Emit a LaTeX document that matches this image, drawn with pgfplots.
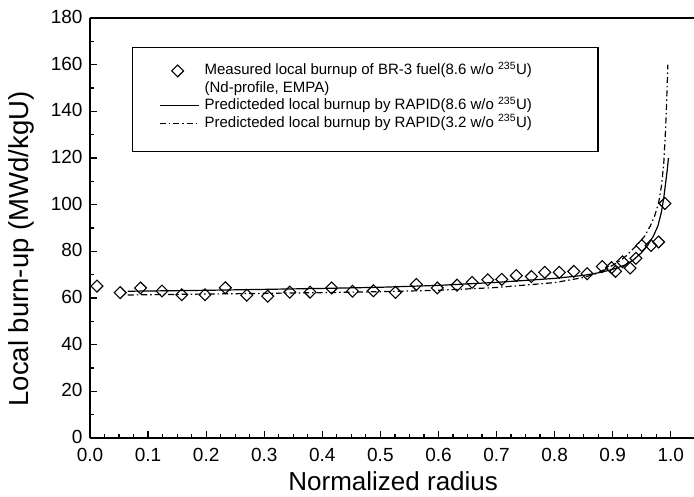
\documentclass[border=0pt]{standalone}
\usepackage{fontspec}
\setmainfont{Liberation Sans}
\usepackage{pgfplots}
\pgfplotsset{compat=1.18}
\pgfplotsset{
  lineleg/.style={legend image code/.code={\path[draw=none,fill=none] (0pt,-3pt) rectangle (43pt,3pt); \draw[##1] (0pt,0pt) -- (39pt,0pt);}},
  markleg/.style={legend image code/.code={\path[draw=none,fill=none] (0pt,-3pt) rectangle (43pt,3pt); \draw[##1] plot[only marks] coordinates {(18pt,0pt)};}},
}

\begin{document}
\begin{tikzpicture}
\begin{axis}[
  scale only axis, width=604pt, height=420pt,
  xmin=0, xmax=1.04, ymin=0, ymax=180,
  axis lines*=left,
  axis line style={line width=1.8pt},
  tick align=inside,
  xtick={0,0.1,0.2,0.3,0.4,0.5,0.6,0.7,0.8,0.9,1.0},
  minor x tick num=3,
  ytick={0,20,40,60,80,100,120,140,160,180},
  minor y tick num=1,
  major tick length=7pt, minor tick length=4pt,
  every tick/.style={line width=1.2pt, black},
  tick label style={font=\fontsize{19}{19}\selectfont},
  /pgf/number format/assume math mode=true,
  xticklabel style={/pgf/number format/.cd, fixed, fixed zerofill, precision=1, /tikz/yshift=-7pt},
  yticklabel style={xshift=-4pt, yshift=1pt},
  xlabel={Normalized radius},
  ylabel={Local burn-up (MWd/kgU)},
  label style={font=\fontsize{26}{26}\selectfont},
  xlabel style={at={(rel axis cs:0.502,-0.126)}, anchor=base},
  ylabel style={at={(rel axis cs:-0.1026,0.45)}, anchor=base, font=\fontsize{27.5}{27.5}\selectfont},
  clip=false,
  legend style={at={(rel axis cs:0.114,0.893)}, anchor=north west, draw=none, fill=none,
    inner sep=0pt, font=\fontsize{15}{17}\selectfont, row sep=2pt,
    nodes={inner ysep=0.5pt, text height=11pt, text depth=3.5pt}},
  legend cell align=left,
]
\draw[line width=1.2pt] (rel axis cs:0.071,0.929) rectangle (rel axis cs:0.841,0.683);

\addplot[only marks, mark=square, mark size=4.2pt,
  mark options={rotate=45, line width=1.1pt, fill=white, solid}, markleg]
coordinates {
(0.012,65.1) (0.052,62.3) (0.087,64.3) (0.124,63.0) (0.158,61.4) (0.198,61.4)
(0.233,64.4) (0.270,61.2) (0.306,60.8) (0.344,62.5) (0.379,62.5) (0.416,64.3)
(0.452,62.9) (0.488,63.1) (0.526,62.4) (0.562,65.8) (0.598,64.3) (0.632,65.5)
(0.658,66.7) (0.685,67.8) (0.709,68.0) (0.734,69.6) (0.760,69.2) (0.783,71.0)
(0.808,71.0) (0.833,71.4) (0.856,70.4) (0.882,73.5) (0.898,73.0) (0.905,71.4)
(0.917,75.5) (0.930,72.8) (0.940,77.0) (0.950,82.5) (0.966,82.5) (0.979,84.0)
(0.990,100.5)
};
\addlegendentry{Measured local burnup of BR-3 fuel(8.6 w/o \textsuperscript{235}U)}
\addlegendimage{empty legend}
\addlegendentry{(Nd-profile, EMPA)}

\addplot[black, line width=1.2pt, lineleg]
coordinates {
(0.065,62.9) (0.1,63.0) (0.2,63.3) (0.3,63.7) (0.4,64.1) (0.5,64.6) (0.6,65.4)
(0.7,66.7) (0.8,68.4) (0.85,69.7) (0.88,71.0) (0.90,72.3) (0.92,74.0) (0.935,76.2)
(0.95,79.5) (0.96,82.5) (0.97,86.5) (0.978,91) (0.984,97) (0.988,103) (0.991,109)
(0.994,115) (0.996,120)
};
\addlegendentry{Predicteded local burnup by RAPID(8.6 w/o \textsuperscript{235}U)}

\addplot[black, line width=1.2pt, dash pattern=on 6pt off 3pt on 1.5pt off 3pt, lineleg]
coordinates {
(0.065,61.3) (0.1,61.4) (0.2,61.7) (0.3,62.0) (0.4,62.3) (0.5,62.7) (0.6,63.3)
(0.7,64.5) (0.8,66.6) (0.85,68.8) (0.87,70.3) (0.893,73.0) (0.91,75.5) (0.922,77.8)
(0.942,82.7) (0.955,86.5) (0.965,91) (0.972,95) (0.979,100.7) (0.984,108) (0.988,118)
(0.991,132) (0.993,145) (0.995,160)
};
\addlegendentry{Predicteded local burnup by RAPID(3.2 w/o \textsuperscript{235}U)}

\draw[line width=1.8pt] (rel axis cs:0,1) -- (rel axis cs:1,1);
\coordinate (bl) at (rel axis cs:0,0);
\coordinate (tr) at (rel axis cs:1,1);
\end{axis}
\pgfresetboundingbox
\path[use as bounding box] ([xshift=-90pt,yshift=-58pt]bl) rectangle ([yshift=18pt]tr);
\end{tikzpicture}
\end{document}
